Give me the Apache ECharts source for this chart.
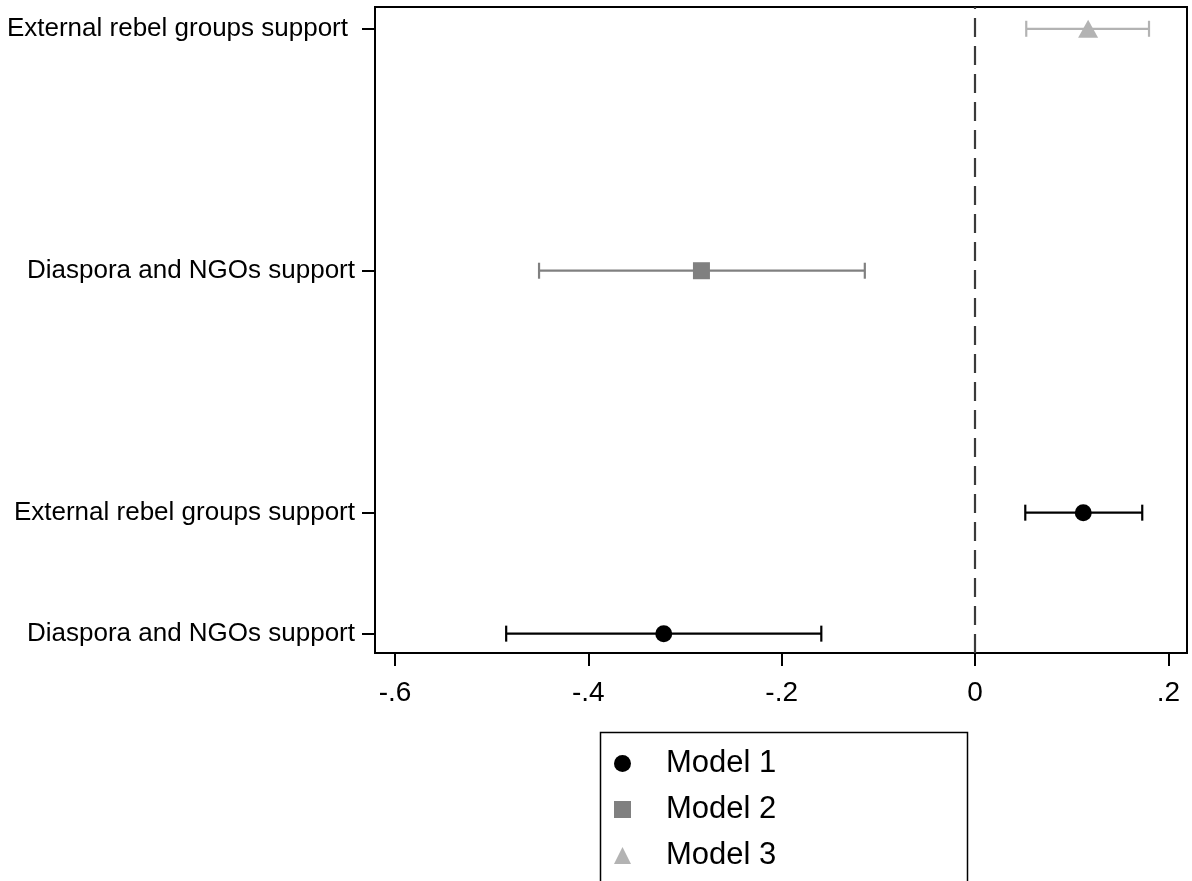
<!DOCTYPE html>
<html>
<head>
<meta charset="utf-8">
<script src="https://cdn.jsdelivr.net/npm/echarts@6/dist/echarts.min.js"></script>
<style>
html,body{margin:0;padding:0;background:#fff;}
#chart{width:1192px;height:881px;}
</style>
</head>
<body>
<div id="chart"></div>
<script>
// ---- data ----
const rowLabels = ['Diaspora and NGOs support', 'External rebel groups support', 'Diaspora and NGOs support', 'External rebel groups support'];
const rowPositions = [1, 2, 4, 6];
const xTicks = [-0.6, -0.4, -0.2, 0, 0.2];
const xTickLabels = ['-.6', '-.4', '-.2', '0', '.2'];
const modelNames = ['Model 1', 'Model 2', 'Model 3'];

// Model 1: rows 1 and 2
const m1Rows = [1, 2];
const m1Est = [-0.322, 0.112];
const m1Lo = [-0.485, 0.052];
const m1Hi = [-0.159, 0.173];
// Model 2: row 4
const m2Rows = [4];
const m2Est = [-0.283];
const m2Lo = [-0.451];
const m2Hi = [-0.114];
// Model 3: row 6
const m3Rows = [6];
const m3Est = [0.117];
const m3Lo = [0.053];
const m3Hi = [0.180];

const colors = ['#000000', '#808080', '#b3b3b3'];
const symbols = ['circle', 'rect', 'triangle'];
const symbolSizes = [17, 17, [20, 18]];
const FONT = '"Liberation Sans", Arial, Helvetica, sans-serif';

function ciData(rows, lo, hi) { return rows.map((r, i) => [lo[i], hi[i], r]); }
function ptData(rows, est) { return rows.map((r, i) => [est[i], r]); }

function ciRender(color) {
  return function (params, api) {
    const lo = api.coord([api.value(0), api.value(2)]);
    const hi = api.coord([api.value(1), api.value(2)]);
    const h = 8;
    const style = { stroke: color, lineWidth: 2.2, fill: null };
    return {
      type: 'group',
      children: [
        { type: 'line', shape: { x1: lo[0], y1: lo[1], x2: hi[0], y2: hi[1] }, style: style },
        { type: 'line', shape: { x1: lo[0], y1: lo[1] - h, x2: lo[0], y2: lo[1] + h }, style: style },
        { type: 'line', shape: { x1: hi[0], y1: hi[1] - h, x2: hi[0], y2: hi[1] + h }, style: style }
      ]
    };
  };
}

const models = [
  { rows: m1Rows, est: m1Est, lo: m1Lo, hi: m1Hi },
  { rows: m2Rows, est: m2Est, lo: m2Lo, hi: m2Hi },
  { rows: m3Rows, est: m3Est, lo: m3Lo, hi: m3Hi }
];

const series = [];
models.forEach((m, k) => {
  series.push({
    name: modelNames[k] + ' CI',
    type: 'custom',
    renderItem: ciRender(colors[k]),
    encode: { x: [0, 1], y: 2 },
    data: ciData(m.rows, m.lo, m.hi),
    z: 2,
    silent: true
  });
});
models.forEach((m, k) => {
  const s = {
    name: modelNames[k],
    type: 'scatter',
    symbol: symbols[k],
    symbolSize: symbolSizes[k],
    itemStyle: { color: colors[k], opacity: 1 },
    data: ptData(m.rows, m.est),
    z: 3
  };
  if (k === 0) {
    s.markLine = {
      silent: true,
      symbol: ['none', 'none'],
      label: { show: false },
      lineStyle: { color: '#3a3a3a', width: 2.2, type: [19, 9] },
      data: [{ xAxis: 0 }],
      z: 1
    };
  }
  series.push(s);
});

const chart = echarts.init(document.getElementById('chart'), null, { renderer: 'canvas' });
chart.setOption({
  animation: false,
  backgroundColor: '#ffffff',
  textStyle: { fontFamily: FONT },
  grid: {
    left: 375, right: 5, top: 7, bottom: 228,
    show: true, borderColor: '#000', borderWidth: 2, backgroundColor: '#fff'
  },
  xAxis: {
    type: 'value',
    min: -0.6207, max: 0.2193,
    splitLine: { show: false },
    axisLine: { show: true, onZero: false, lineStyle: { color: '#000', width: 2 } },
    axisTick: { show: true, length: 13, lineStyle: { color: '#000', width: 2 }, customValues: xTicks },
    axisLabel: {
      customValues: xTicks,
      margin: 26,
      color: '#000',
      fontSize: 28,
      fontFamily: FONT,
      formatter: function (v) {
        const i = xTicks.findIndex(t => Math.abs(t - v) < 1e-6);
        return i >= 0 ? xTickLabels[i] : '';
      }
    }
  },
  yAxis: {
    type: 'value',
    min: 0.84, max: 6.18,
    splitLine: { show: false },
    axisLine: { show: true, onZero: false, lineStyle: { color: '#000', width: 2 } },
    axisTick: { show: true, length: 13, lineStyle: { color: '#000', width: 2 }, customValues: rowPositions },
    axisLabel: {
      customValues: rowPositions,
      margin: 20,
      color: '#000',
      fontSize: 26,
      fontFamily: FONT,
      formatter: function (v) {
        const i = rowPositions.findIndex(t => Math.abs(t - v) < 1e-6);
        if (i < 0) return '';
        return i === rowPositions.length - 1 ? '{top|' + rowLabels[i] + '}' : rowLabels[i];
      },
      rich: { top: { fontSize: 26, fontFamily: FONT, color: '#000', padding: [0, 7, 0, 0] } }
    }
  },
  legend: {
    data: modelNames.map((n, k) => ({ name: n, icon: symbols[k] })),
    orient: 'vertical',
    left: 614, top: 748,
    padding: 0,
    itemGap: 15,
    itemWidth: 17, itemHeight: 17,
    selectedMode: false,
    textStyle: { color: '#000', fontSize: 31, fontFamily: FONT, lineHeight: 30, padding: [0, 0, 0, 30] }
  },
  graphic: [{
    type: 'rect',
    left: 598, top: 730,
    shape: { width: 367, height: 200 },
    style: { fill: null, stroke: '#000', lineWidth: 1.5 },
    z: -1
  }],
  series: series
});
</script>
</body>
</html>
